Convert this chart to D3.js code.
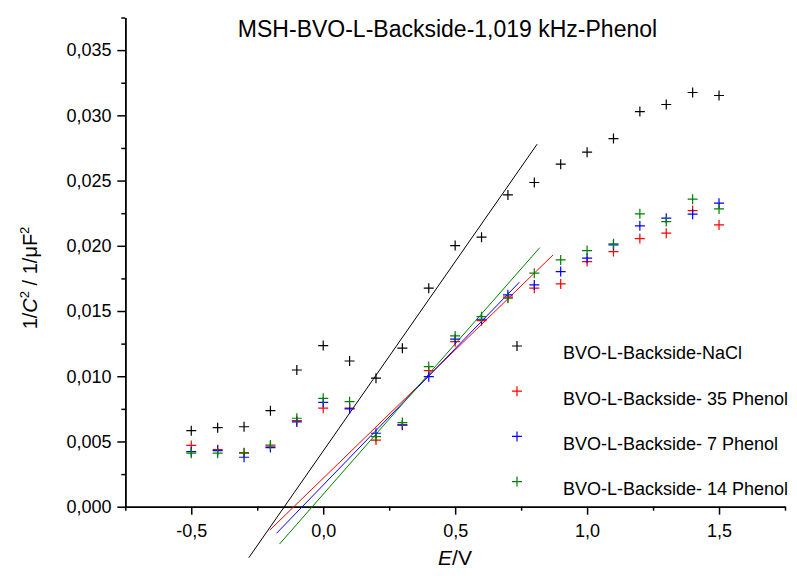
<!DOCTYPE html>
<html><head><meta charset="utf-8">
<script src="https://cdn.jsdelivr.net/npm/d3@7"></script>
<style>body{margin:0;background:#fff}svg{display:block}text{font-family:"Liberation Sans",Arial,sans-serif}</style>
</head><body><svg id="c" width="797" height="576"></svg>
<script>
const potentials = [-0.5,-0.4,-0.3,-0.2,-0.1,0.0,0.1,0.2,0.3,0.4,0.5,0.6,0.7,0.8,0.9,1.0,1.1,1.2,1.3,1.4,1.5];
const naclValues = [0.00583,0.00606,0.00613,0.00736,0.01048,0.01235,0.01117,0.00985,0.01215,0.01675,0.02002,0.02066,0.0239,0.02485,0.02626,0.02718,0.02822,0.03029,0.03083,0.03175,0.03152];
const phenol35Values = [0.00470,0.00437,0.00410,0.00465,0.00660,0.00755,0.00755,0.00511,0.00625,0.01043,0.01265,0.01426,0.01606,0.01675,0.01708,0.01879,0.01956,0.02055,0.02097,0.02270,0.02160];
const phenol7Values = [0.00422,0.00430,0.00379,0.00453,0.00650,0.00800,0.00750,0.00563,0.00627,0.00997,0.01284,0.01437,0.01624,0.01700,0.01802,0.01905,0.02007,0.02153,0.02212,0.02242,0.02327];
const phenol14Values = [0.00410,0.00410,0.00414,0.00473,0.00678,0.00831,0.00805,0.00537,0.00645,0.01074,0.01309,0.01457,0.01598,0.01790,0.01892,0.01963,0.02015,0.02245,0.02186,0.02357,0.02283];
// Mott-Schottky fit line endpoints [x1, y1, x2, y2]
const naclFit = [-0.282,-0.00391,0.8106,0.02779];
const phenol35Fit = [-0.2023,-0.00179,0.871,0.0193];
const phenol7Fit = [-0.1769,-0.00204,0.7436,0.01721];
const phenol14Fit = [-0.1655,-0.00286,0.8205,0.01986];
const seriesNames = ["BVO-L-Backside-NaCl","BVO-L-Backside- 35 Phenol","BVO-L-Backside- 7 Phenol","BVO-L-Backside- 14 Phenol"];
const seriesColors = ["#000000","#ff0000","#0000ff","#008000"];
const xMajorTicks = [-0.5,0.0,0.5,1.0,1.5];
const xMinorTicks = [-0.75,-0.25,0.25,0.75,1.25,1.75];
const yMajorTicks = [0,0.005,0.010,0.015,0.020,0.025,0.030,0.035];
const yMinorTicks = [0.0025,0.0075,0.0125,0.0175,0.0225,0.0275,0.0325,0.0375];
const titleText = "MSH-BVO-L-Backside-1,019 kHz-Phenol";

const allValues = [naclValues, phenol35Values, phenol7Values, phenol14Values];
const allFits = [naclFit, phenol35Fit, phenol7Fit, phenol14Fit];

const svg = d3.select("#c");
const x = d3.scaleLinear().domain([-0.75,1.75]).range([125.3,785]);
const y = d3.scaleLinear().domain([0,0.0375]).range([506.7,17.5]);
const loc = d3.formatLocale({decimal:",",thousands:".",grouping:[3],currency:["",""],minus:"-"});
const fx = loc.format(".1f"), fy = loc.format(".3f");

// axes
const gx = svg.append("g").attr("transform",`translate(0,${y(0)})`);
gx.call(d3.axisBottom(x).tickValues(xMajorTicks).tickFormat(fx).tickSize(8).tickSizeOuter(0));
gx.append("g").call(d3.axisBottom(x).tickValues(xMinorTicks).tickFormat("").tickSize(4).tickSizeOuter(0));
const gy = svg.append("g").attr("transform",`translate(${x(-0.75)},0)`);
gy.call(d3.axisLeft(y).tickValues(yMajorTicks).tickFormat(fy).tickSize(8).tickSizeOuter(0));
gy.append("g").call(d3.axisLeft(y).tickValues(yMinorTicks).tickFormat("").tickSize(4).tickSizeOuter(0));
svg.selectAll(".domain").attr("stroke","#000").attr("stroke-width",1.5);
svg.selectAll(".tick line").attr("stroke","#000").attr("stroke-width",1.5);
gx.selectAll(".tick text").attr("font-size",18).attr("font-family","Liberation Sans, Arial").attr("fill","#000").attr("dy","1.05em");
gy.selectAll(".tick text").attr("font-size",18).attr("font-family","Liberation Sans, Arial").attr("fill","#000").attr("dx","-0.15em");

// fit lines
allFits.forEach((f,i)=>{
  svg.append("line").attr("x1",x(f[0])).attr("y1",y(f[1])).attr("x2",x(f[2])).attr("y2",y(f[3]))
    .attr("stroke",seriesColors[i]).attr("stroke-width",1);
});

// markers
function plus(g,cx,cy,color){
  g.append("path").attr("d",`M${cx-5},${cy}H${cx+5}M${cx},${cy-5}V${cy+5}`)
   .attr("stroke",color).attr("stroke-width",1.2).attr("fill","none");
}
allValues.forEach((vals,i)=>{
  const g = svg.append("g");
  vals.forEach((v,j)=>plus(g,x(potentials[j]),y(v),seriesColors[i]));
});

// legend
const lg = svg.append("g");
seriesNames.forEach((n,i)=>{
  const cy = 346 + i*45.2;
  plus(lg,517,cy,seriesColors[i]);
  lg.append("text").attr("x",563).attr("y",cy+13.3).attr("font-size",18).attr("fill","#000").text(n);
});

// title
svg.append("text").attr("x",447.5).attr("y",36.7).attr("text-anchor","middle").attr("font-size",23).attr("fill","#000").text(titleText);

// x label
const xl = svg.append("text").attr("x",455).attr("y",565).attr("text-anchor","middle").attr("font-size",21).attr("fill","#000");
xl.append("tspan").attr("font-style","italic").text("E");
xl.append("tspan").text("/V");

// y label
const yl = svg.append("text").attr("transform","translate(37,278) rotate(-90)").attr("text-anchor","middle").attr("font-size",20).attr("fill","#000");
yl.append("tspan").text("1/");
yl.append("tspan").attr("font-style","italic").text("C");
yl.append("tspan").attr("font-size",13).attr("dy",-8).text("2");
yl.append("tspan").attr("dy",8).text(" / 1/\u03bcF");
yl.append("tspan").attr("font-size",13).attr("dy",-8).text("2");
</script></body></html>
